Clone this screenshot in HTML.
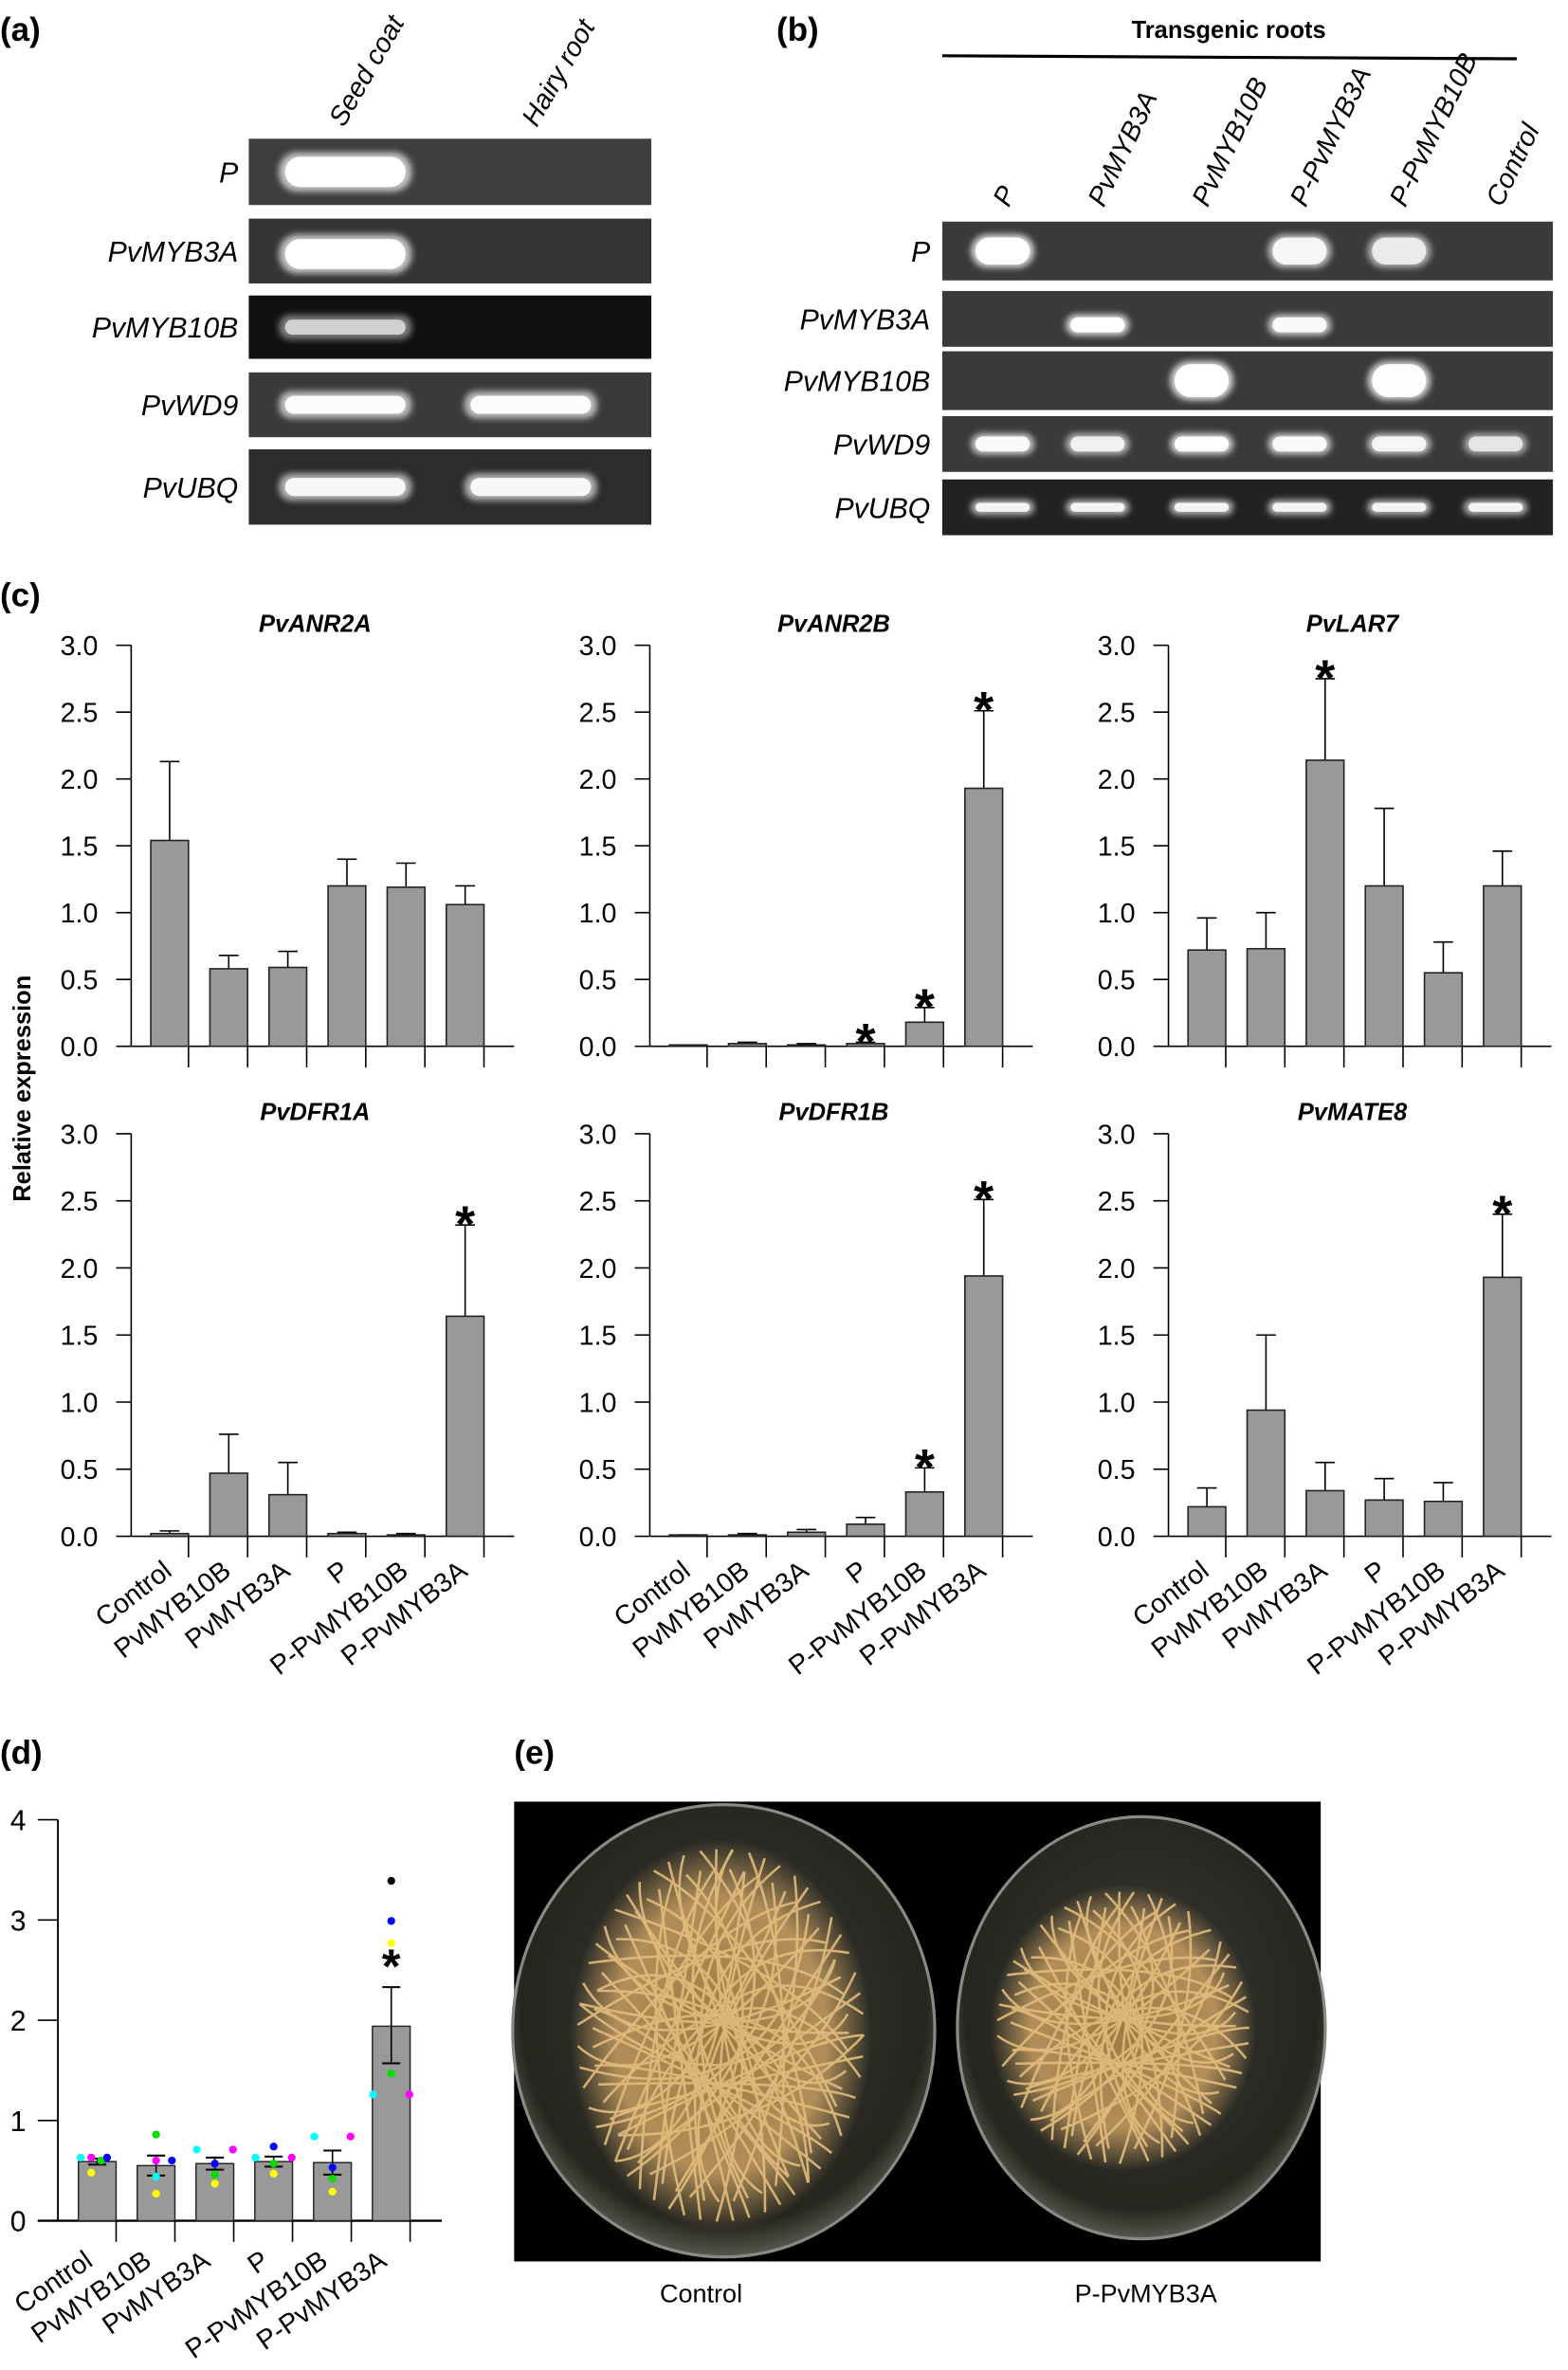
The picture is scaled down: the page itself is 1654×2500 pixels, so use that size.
<!DOCTYPE html>
<html><head><meta charset="utf-8"><style>
html,body{margin:0;padding:0;background:#fff;}
svg{display:block;font-family:"Liberation Sans",sans-serif;}
</style></head><body>
<svg id="fig" xmlns="http://www.w3.org/2000/svg" width="1654" height="2500" viewBox="0 0 1040 1572">
<defs>
<filter id="blur" x="-50%" y="-100%" width="200%" height="300%"><feGaussianBlur stdDeviation="2.2"/></filter>
<radialGradient id="dishG" cx="50%" cy="45%" r="60%"><stop offset="0" stop-color="#3a3a36"/><stop offset="0.8" stop-color="#26261f"/><stop offset="1" stop-color="#7a7a72"/></radialGradient>
<radialGradient id="rootG" cx="50%" cy="50%" r="50%"><stop offset="0" stop-color="#b98a48"/><stop offset="0.7" stop-color="#d2a565"/><stop offset="1" stop-color="#d9ad6a" stop-opacity="0"/></radialGradient>
</defs>
<g id="gels"></g>
<g id="charts"></g>
<g id="chartD"></g>
<g id="photo">
  <rect x="341" y="1195" width="535" height="305" fill="#000"/>
  <ellipse cx="480" cy="1347" rx="140" ry="150" fill="url(#dishG)" stroke="#8a8a84" stroke-width="2"/>
  <ellipse cx="757" cy="1345" rx="122" ry="140" fill="url(#dishG)" stroke="#8a8a84" stroke-width="2"/>
  <ellipse cx="478" cy="1350" rx="100" ry="130" fill="url(#rootG)" opacity="0.8"/>
  <ellipse cx="745" cy="1345" rx="88" ry="95" fill="url(#rootG)" opacity="0.8"/>
  <g id="strands" stroke="#e3bd7d" stroke-width="1.6" fill="none" opacity="0.9"></g>
</g>
<text x="0" y="27" font-size="22" font-weight="bold">(a)</text>
<text x="515" y="27" font-size="22" font-weight="bold">(b)</text>
<text x="0" y="402" font-size="22" font-weight="bold">(c)</text>
<text x="0" y="1170" font-size="22" font-weight="bold">(d)</text>
<text x="341" y="1170" font-size="22" font-weight="bold">(e)</text>
<text x="815" y="25" font-size="16" font-weight="bold" text-anchor="middle">Transgenic roots</text>
<line x1="625" y1="37" x2="1006" y2="39" stroke="#000" stroke-width="2"/>
<text transform="translate(20,722) rotate(-90)" font-size="16" font-weight="bold" text-anchor="middle">Relative expression</text>
<text x="465" y="1527" font-size="17" text-anchor="middle">Control</text>
<text x="760" y="1527" font-size="17" text-anchor="middle">P-PvMYB3A</text>
</svg>
<script>
const NS="http://www.w3.org/2000/svg";
function mk(tag,attrs,parent,txt){const e=document.createElementNS(NS,tag);for(const k in attrs)e.setAttribute(k,attrs[k]);if(txt!==undefined)e.textContent=txt;parent.appendChild(e);return e;}

// ---------- Gels ----------
const gels=document.getElementById('gels');
const gelARows=["P","PvMYB3A","PvMYB10B","PvWD9","PvUBQ"];
const gelAY=[[92,136],[145,188],[196,238],[247,290],[298,348]];
const gelABg=["#3e3e3e","#353535","#111","#3a3a3a","#2c2c2c"];
const gelABands=[[1,0],[1,0],[0.65,0],[0.95,0.95],[0.9,0.9]];
const gelAH=[24,24,14,16,16];
const gelACols=[229,352];
gelARows.forEach((r,i)=>{
  const g=mk('g',{},gels);
  
  
  const [y0,y1]=gelAY[i];
  mk('rect',{x:165,y:y0,width:267,height:y1-y0,fill:gelABg[i]},g);
  gelABands[i].forEach((b,j)=>{ if(b>0){
    const cy=(y0+y1)/2+(i==1?2:0), h=gelAH[i];
    mk('rect',{x:gelACols[j]-44,y:cy-h/2-1,width:88,height:h+2,rx:h/2,fill:'#fff',opacity:b*0.7,filter:'url(#blur)'},g);
    mk('rect',{x:gelACols[j]-40,y:cy-h/2+2,width:80,height:h-4,rx:(h-4)/2,fill:'#fff',opacity:b},g);
  }});
  mk('text',{x:158,y:(y0+y1)/2+7,'font-size':19,'font-style':'italic','text-anchor':'end'},g,r);
});
[["Seed coat",228],["Hairy root",356]].forEach(([t,x])=>{
  const e=mk('text',{transform:`translate(${x},85) rotate(-60)`,'font-size':18,'font-style':'italic'},gels,t);
  
  
});
const gelBRows=["P","PvMYB3A","PvMYB10B","PvWD9","PvUBQ"];
const gelBY=[[147,186],[193,230],[233,272],[276,313],[318,355]];
const gelBCols=[665,728,797,862,928,992];
const gelBLanes=["P","PvMYB3A","PvMYB10B","P-PvMYB3A","P-PvMYB10B","Control"];
const gelBBands=[[1,0,0,0.85,0.75,0],[0,1,0,0.9,0,0],[0,0,1,0,0.95,0],[0.9,0.8,0.95,0.9,0.85,0.7],[0.85,0.85,0.85,0.85,0.85,0.85]];
const gelBH=[22,14,26,14,10];
gelBRows.forEach((r,i)=>{
  const g=mk('g',{},gels);
  
  
  const [y0,y1]=gelBY[i];
  mk('rect',{x:625,y:y0,width:405,height:y1-y0,fill:i==4?'#222':'#3a3a3a'},g);
  gelBBands[i].forEach((b,j)=>{ if(b>0){
    const h=gelBH[i],cy=(y0+y1)/2+(i==1?4:0);
    mk('rect',{x:gelBCols[j]-21,y:cy-h/2,width:42,height:h,rx:h/2,fill:'#fff',opacity:b*0.8,filter:'url(#blur)'},g);
    mk('rect',{x:gelBCols[j]-18,y:cy-h/2+2,width:36,height:h-4,rx:(h-4)/2,fill:'#fff',opacity:b},g);
  }});
  mk('text',{x:617,y:(y0+y1)/2+7,'font-size':19,'font-style':'italic','text-anchor':'end'},g,r);
});
gelBLanes.forEach((t,j)=>{
  const e=mk('text',{transform:`translate(${gelBCols[j]+4},138) rotate(-64)`,'font-size':18,'font-style':'italic'},gels,t);
  
  
});

// ---------- Panel (c) charts ----------
const categories=["Control","PvMYB10B","PvMYB3A","P","P-PvMYB10B","P-PvMYB3A"];
const yTicks=["0.0","0.5","1.0","1.5","2.0","2.5","3.0"];
const chartTitles=["PvANR2A","PvANR2B","PvLAR7","PvDFR1A","PvDFR1B","PvMATE8"];
const anr2aMean=[1.54,0.58,0.59,1.20,1.19,1.06];
const anr2aTop=[2.13,0.68,0.71,1.40,1.37,1.20];
const anr2bMean=[0.01,0.02,0.01,0.02,0.18,1.93];
const anr2bTop=[0.01,0.03,0.02,0.03,0.29,2.51];
const lar7Mean=[0.72,0.73,2.14,1.20,0.55,1.20];
const lar7Top=[0.96,1.00,2.75,1.78,0.78,1.46];
const dfr1aMean=[0.02,0.47,0.31,0.02,0.01,1.64];
const dfr1aTop=[0.04,0.76,0.55,0.03,0.02,2.32];
const dfr1bMean=[0.01,0.01,0.03,0.09,0.33,1.94];
const dfr1bTop=[0.01,0.02,0.05,0.14,0.51,2.51];
const mate8Mean=[0.22,0.94,0.34,0.27,0.26,1.93];
const mate8Top=[0.36,1.50,0.55,0.43,0.40,2.40];
const anr2aStar=[0,0,0,0,0,0];
const anr2bStar=[0,0,0,1,1,1];
const lar7Star=[0,0,1,0,0,0];
const dfr1aStar=[0,0,0,0,0,1];
const dfr1bStar=[0,0,0,0,1,1];
const mate8Star=[0,0,0,0,0,1];
const means=[anr2aMean,anr2bMean,lar7Mean,dfr1aMean,dfr1bMean,mate8Mean];
const tops=[anr2aTop,anr2bTop,lar7Top,dfr1aTop,dfr1bTop,mate8Top];
const stars=[anr2aStar,anr2bStar,lar7Star,dfr1aStar,dfr1bStar,mate8Star];

const charts=document.getElementById('charts');
means.forEach((m,ci)=>{
  const col=ci%3,row=Math.floor(ci/3);
  const ax=87+col*344, y0=row?1019:694, y3=row?752:428;
  const ys=v=>y0-(y0-y3)*v/3;
  const xs=i=>ax+13+i*39.2;
  const g=mk('g',{},charts);
  
  
  const t=mk('text',{x:ax+122,y:y3-9,'font-size':16,'font-weight':'bold','font-style':'italic','text-anchor':'middle'},g,chartTitles[ci]);
  
  
  mk('line',{x1:ax,y1:y3,x2:ax,y2:y0,stroke:'#000','stroke-width':1},g);
  mk('line',{x1:ax,y1:y0,x2:ax+254,y2:y0,stroke:'#000','stroke-width':1},g);
  yTicks.forEach(tk=>{
    const y=ys(parseFloat(tk));
    mk('line',{x1:ax-10,y1:y,x2:ax,y2:y,stroke:'#000'},g);
    const e=mk('text',{x:ax-22,y:y+6.5,'font-size':18,'text-anchor':'end'},g,tk);
    
    
  });
  m.forEach((v,i)=>{
    const x=xs(i);
    const top=tops[ci][i];
    mk('line',{x1:x+12.5,y1:ys(v),x2:x+12.5,y2:ys(top),stroke:'#000'},g);
    mk('line',{x1:x+6,y1:ys(top),x2:x+19,y2:ys(top),stroke:'#000'},g);
    const b=mk('rect',{x:x,y:ys(v),width:25,height:Math.max(0.6,y0-ys(v)),fill:'#999',stroke:'#222','stroke-width':1},g);
    
    
    mk('line',{x1:x+25,y1:y0,x2:x+25,y2:y0+14,stroke:'#000'},g);
    if(stars[ci][i]){
      const s=mk('text',{x:x+12.5,y:ys(top)+11,'font-size':34,'font-weight':'bold','text-anchor':'middle'},g,'*');
      
      
    }
    if(row==1){
      const l=mk('text',{transform:`translate(${x+15},${y0+25}) rotate(-38)`,'font-size':18,'text-anchor':'end'},g,categories[i]);
      
      
    }
  });
});

// ---------- Panel (d) ----------
const dTicks=["0","1","2","3","4"];
const dMean=[0.59,0.55,0.57,0.59,0.58,1.94];
const dErrTop=[0.62,0.65,0.63,0.64,0.70,2.33];
const dErrBot=[0.56,0.45,0.51,0.54,0.46,1.57];
const dColors=["cyan","magenta","yellow","#00e000","blue","black"];
const dCyan=[0.63,0.44,0.71,0.63,0.84,1.26];
const dMagenta=[0.63,0.60,0.71,0.63,0.84,1.26];
const dYellow=[0.48,0.27,0.37,0.47,0.29,2.77];
const dGreen=[0.60,0.86,0.46,0.57,0.42,1.47];
const dBlue=[0.63,0.60,0.57,0.74,0.53,2.99];
const dBlack=[null,null,null,null,null,3.39];
const dStar=[0,0,0,0,0,1];
const dg=document.getElementById('chartD');


const dy0=1473,dy4=1207;
const dys=v=>dy0-(dy0-dy4)*v/4;
const dxs=i=>64.5+i*39;
mk('line',{x1:38.4,y1:dy4,x2:38.4,y2:dy0,stroke:'#000','stroke-width':1.2},dg);
mk('line',{x1:25,y1:dy0,x2:293,y2:dy0,stroke:'#000','stroke-width':1.5},dg);
dTicks.forEach(tk=>{
  const y=dys(parseFloat(tk));
  mk('line',{x1:25,y1:y,x2:38.4,y2:y,stroke:'#000'},dg);
  const e=mk('text',{x:12,y:y+7,'font-size':19,'text-anchor':'middle'},dg,tk);
  
  
});
// per-point horizontal jitter (layout, not data)
const jit=[[-11,-4,-4,2.5,6.5],[0,0,0,0,10.5],[-12,12,0,0,0],[-12,12,0,0,0],[-12,12,0,0,0],[-12,12,0,0,0]];
dMean.forEach((v,i)=>{
  const x=dxs(i);
  const b=mk('rect',{x:x-12.5,y:dys(v),width:25,height:dy0-dys(v),fill:'#999',stroke:'#222','stroke-width':0.9},dg);
  
  
  mk('line',{x1:x,y1:dys(dErrTop[i]),x2:x,y2:dys(dErrBot[i]),stroke:'#000'},dg);
  mk('line',{x1:x-6,y1:dys(dErrTop[i]),x2:x+6,y2:dys(dErrTop[i]),stroke:'#000','stroke-width':1.3},dg);
  mk('line',{x1:x-6,y1:dys(dErrBot[i]),x2:x+6,y2:dys(dErrBot[i]),stroke:'#000','stroke-width':1.3},dg);
  mk('line',{x1:x+12.5,y1:dy0,x2:x+12.5,y2:dy0+14,stroke:'#000'},dg);
  [dCyan,dMagenta,dYellow,dGreen,dBlue,dBlack].forEach((arr,k)=>{
    if(arr[i]==null)return;
    const dot=mk('circle',{cx:x+(k<5?jit[i][k]:0),cy:dys(arr[i]),r:2.6,fill:dColors[k]},dg);
    
    
  });
  if(dStar[i]){
    const s=mk('text',{x:x,y:dys(dErrTop[i])-3,'font-size':32,'font-weight':'bold','text-anchor':'middle'},dg,'*');
    
    
  }
  const l=mk('text',{transform:`translate(${x-2},${dy0+29}) rotate(-35)`,'font-size':18,'text-anchor':'end'},dg,categories[i]);
  
  
});

// ---------- decorative root strands ----------
const st=document.getElementById('strands');
function strands(cx,cy,rx,ry,n){
  for(let k=0;k<n;k++){
    const a=k*2.399, b=k*1.618;
    const x1=cx+rx*Math.cos(a)*0.95, y1=cy+ry*Math.sin(a)*0.95;
    const x2=cx+rx*Math.cos(a+2.5)*0.85, y2=cy+ry*Math.sin(a+2.5)*0.85;
    const qx=cx+rx*0.6*Math.cos(b), qy=cy+ry*0.6*Math.sin(b);
    mk('path',{d:`M${x1.toFixed(1)},${y1.toFixed(1)} Q${qx.toFixed(1)},${qy.toFixed(1)} ${x2.toFixed(1)},${y2.toFixed(1)}`},st);
  }
}
strands(478,1350,100,130,60);
strands(745,1345,88,95,50);
</script>
</body></html>
